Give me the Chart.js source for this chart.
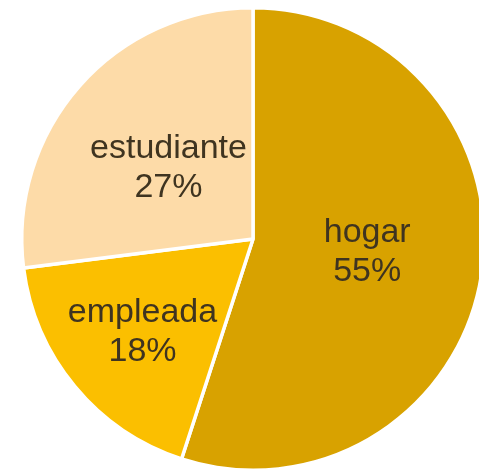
<!DOCTYPE html>
<html>
<head>
<meta charset="utf-8">
<script src="https://cdn.jsdelivr.net/npm/chart.js@4"></script>
<style>
  html, body { margin: 0; padding: 0; background: #fff; overflow: hidden; }
  #wrap { width: 486px; height: 474px; }
</style>
</head>
<body>
<div id="wrap"><canvas id="pieChart"></canvas></div>
<script>
const labels = ["hogar", "empleada", "estudiante"];
const values = [55, 18, 27]; // percent
const colors = ["#D8A200", "#FBBF00", "#FDDBA8"];

// draws "name / nn%" inside each slice
const sliceLabels = {
  id: "sliceLabels",
  afterDatasetsDraw(chart, args, opts) {
    const ctx = chart.ctx;
    const meta = chart.getDatasetMeta(0);
    ctx.save();
    ctx.font = opts.font;
    ctx.fillStyle = opts.color;
    ctx.textAlign = "center";
    ctx.textBaseline = "middle";
    meta.data.forEach((arc, i) => {
      const p = arc.getProps(["x", "y", "startAngle", "endAngle", "outerRadius"], true);
      const mid = (p.startAngle + p.endAngle) / 2;
      const r = p.outerRadius * opts.radius[i];
      const x = p.x + Math.cos(mid) * r + opts.nudge[i][0];
      const y = p.y + Math.sin(mid) * r + opts.nudge[i][1];
      ctx.fillText(labels[i], x, y - opts.lineGap / 2);
      ctx.fillText(values[i] + "%", x, y + opts.lineGap / 2);
    });
    ctx.restore();
  },
};

new Chart("pieChart", {
  type: "pie",
  data: {
    labels: labels,
    datasets: [
      {
        data: values,
        backgroundColor: colors,
        borderColor: "#ffffff",
        borderWidth: 3.5,
      },
    ],
  },
  options: {
    responsive: true,
    maintainAspectRatio: false,
    animation: false,
    layout: { padding: { left: 20, right: 0, top: 6, bottom: 2 } },
    plugins: {
      legend: { display: false },
      tooltip: { enabled: false },
      sliceLabels: {
        font: "34px 'Liberation Sans', Arial, sans-serif",
        color: "#3f3420",
        radius: [0.5, 0.62, 0.47],
        nudge: [[0, -5], [0, 2], [-3, 1]],
        lineGap: 39,
      },
    },
  },
  plugins: [sliceLabels],
});
</script>
</body>
</html>
